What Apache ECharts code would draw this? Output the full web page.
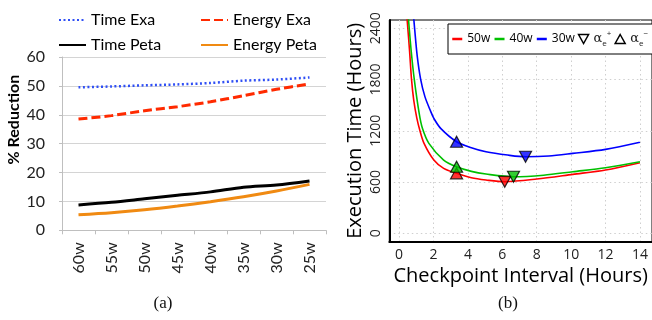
<!DOCTYPE html>
<html>
<head>
<meta charset="utf-8">
<script src="https://cdn.jsdelivr.net/npm/echarts@6/dist/echarts.min.js"></script>
<style>
  html, body { margin: 0; padding: 0; background: #fff; }
  #c { width: 652px; height: 320px; }
</style>
</head>
<body>
<div id="c"></div>
<script>
// ---- (a) % reduction per power budget ----
const sizes = ['60w', '55w', '50w', '45w', '40w', '35w', '30w', '25w'];
const timeExa = [49.5, 49.8, 50.2, 50.5, 51.0, 51.8, 52.2, 52.9];
const energyExa = [38.5, 39.7, 41.4, 42.8, 44.5, 46.6, 48.8, 50.7];
const timePeta = [8.8, 9.7, 10.9, 12.1, 13.3, 14.9, 15.7, 17.1];
const energyPeta = [5.4, 6.1, 7.1, 8.4, 9.9, 11.6, 13.6, 15.9];

// ---- (b) execution time vs checkpoint interval ----
const interval50 = [0.46, 0.61, 0.72, 0.85, 1.03, 1.2, 1.45, 2.02, 2.59, 3.34, 4.2, 5.05, 6.14, 8, 10.1, 12, 14];
const time50 = [2518, 2130, 1805, 1560, 1349, 1210, 1053, 858, 760, 702, 650, 624, 604, 635, 690, 741, 826];
const interval40 = [0.54, 0.7, 0.88, 1.17, 1.35, 1.73, 2.59, 3.34, 4.2, 5.05, 6.65, 8.4, 10.1, 12, 14];
const time40 = [2518, 2140, 1805, 1400, 1232, 1053, 858, 779, 725, 694, 662, 680, 721, 768, 838];
const interval30 = [0.85, 0.9, 1.05, 1.25, 1.5, 1.83, 2.02, 2.43, 3.34, 4.2, 5.05, 6.31, 7.35, 8.7, 10.1, 12, 14];
const time30 = [2518, 2400, 2080, 1805, 1600, 1430, 1345, 1225, 1072, 1003, 955, 916, 896, 905, 936, 983, 1065];
// optimum (down triangle) and lower bound (up triangle) per budget: 50w, 40w, 30w
const alphaPlusX = [6.14, 6.65, 7.35];
const alphaPlusY = [604, 662, 896];
const alphaMinusX = [3.34, 3.34, 3.34];
const alphaMinusY = [702, 779, 1072];
const intervalTicks = [0, 2, 4, 6, 8, 10, 12, 14];
const timeTicks = [0, 600, 1200, 1800, 2400];

const curveColors = ['#ff0000', '#00c000', '#0000ff'];
const pairs = (xs, ys) => xs.map((x, i) => [x, ys[i]]);
const marks = (xs, ys) => xs.map((x, i) => ({ value: [x, ys[i]], itemStyle: { color: curveColors[i] } }));

const fontA = 'Lato, "Open Sans", sans-serif';
const fontB = '"Open Sans", "DejaVu Sans", sans-serif';
const hollow = { color: '#fff', borderColor: '#000', borderWidth: 1.5, opacity: 1 };

const chart = echarts.init(document.getElementById('c'), null, { renderer: 'canvas' });

chart.setOption({
  animation: false,
  backgroundColor: '#fff',
  grid: [
    { left: 62, top: 57, width: 264, height: 173.3 },
    { left: 389.3, top: 20, width: 268, height: 221.7, show: true, borderColor: '#000', borderWidth: 1 }
  ],
  legend: [
    {
      data: ['Time Exa', 'Time Peta'], orient: 'vertical', left: 53, top: 7,
      itemWidth: 27, itemHeight: 14, itemGap: 9, itemStyle: { opacity: 0 },
      textStyle: { fontFamily: fontA, fontSize: 16, color: '#000' }
    },
    {
      data: ['Energy Exa', 'Energy Peta'], orient: 'vertical', left: 195, top: 7,
      itemWidth: 27, itemHeight: 14, itemGap: 9, itemStyle: { opacity: 0 },
      textStyle: { fontFamily: fontA, fontSize: 16, color: '#000' }
    },
    {
      data: [
        '50w', '40w', '30w',
        { name: 'α+', icon: 'path://M0,0 L10,0 L5,9 Z', itemStyle: hollow },
        { name: 'α−', icon: 'path://M5,0 L10,9 L0,9 Z', itemStyle: hollow }
      ],
      left: 448, top: 24, width: 240, padding: [6, 30, 6, 3],
      backgroundColor: '#fff', borderColor: '#000', borderWidth: 1, borderRadius: 0,
      itemWidth: 10, itemHeight: 9, itemGap: 3, itemStyle: { opacity: 0 },
      lineStyle: { width: 2.5 },
      formatter: function (n) {
        if (n === 'α+') return '{g|α}{s|e}{p|+}';
        if (n === 'α−') return '{g|α}{s|e}{p|−}';
        return n;
      },
      textStyle: {
        fontFamily: fontB, fontSize: 12, color: '#000',
        rich: {
          g: { fontFamily: 'DejaVu Serif', fontSize: 13, lineHeight: 18, color: '#222' },
          s: { fontFamily: fontB, fontSize: 8, verticalAlign: 'bottom', lineHeight: 18, color: '#222' },
          p: { fontFamily: fontB, fontSize: 8, verticalAlign: 'top', lineHeight: 18, color: '#222' }
        }
      }
    }
  ],
  xAxis: [
    {
      type: 'category', gridIndex: 0, data: sizes, boundaryGap: true,
      axisLine: { lineStyle: { color: '#bfbfbf', width: 1 } },
      axisTick: { show: true, length: 4, lineStyle: { color: '#bfbfbf' } },
      axisLabel: { rotate: 90, fontFamily: fontA, fontSize: 16, color: '#222', margin: 12 },
      splitLine: { show: false }
    },
    {
      type: 'value', gridIndex: 1, min: -0.57, max: 14.7,
      axisLine: { onZero: false, lineStyle: { color: '#000', width: 2 } },
      axisTick: { show: false, customValues: intervalTicks },
      axisLabel: { customValues: intervalTicks, formatter: v => String(v), fontFamily: fontB, fontSize: 14, color: '#222', margin: 6 },
      splitLine: { show: true, lineStyle: { color: '#cfcfcf', type: [1.5, 3], width: 1 } },
      name: 'Checkpoint Interval (Hours)', nameLocation: 'middle', nameGap: 21,
      nameTextStyle: { fontFamily: fontB, fontSize: 20, color: '#000' }
    }
  ],
  yAxis: [
    {
      type: 'value', gridIndex: 0, min: 0, max: 60, interval: 10,
      axisLine: { show: true, lineStyle: { color: '#bfbfbf', width: 1 } },
      axisTick: { show: true, length: 3, lineStyle: { color: '#bfbfbf' } },
      axisLabel: { fontFamily: fontA, fontSize: 16, color: '#222', margin: 17 },
      splitLine: { show: true, lineStyle: { color: '#d4d4d4', width: 1 } },
      name: '% Reduction', nameLocation: 'middle', nameGap: 40,
      nameTextStyle: { fontFamily: fontA, fontSize: 16, fontWeight: 'bold', color: '#000', padding: [0, 0, 0, 48] }
    },
    {
      type: 'value', gridIndex: 1, min: -98, max: 2497,
      axisLine: { show: true, onZero: false, lineStyle: { color: '#000', width: 2 } },
      axisTick: { show: false, customValues: timeTicks },
      axisLabel: { customValues: timeTicks, formatter: v => String(v), rotate: 90, fontFamily: fontB, fontSize: 14, color: '#222', margin: 6 },
      splitLine: { show: true, lineStyle: { color: '#cfcfcf', type: [1.5, 3], width: 1 } },
      name: 'Execution Time (Hours)', nameLocation: 'middle', nameGap: 24,
      nameTextStyle: { fontFamily: fontB, fontSize: 20, color: '#000' }
    }
  ],
  series: [
    { name: 'Time Exa', type: 'line', xAxisIndex: 0, yAxisIndex: 0, data: timeExa, smooth: 0.3,
      symbol: 'none', color: '#2f4ff5', lineStyle: { width: 2.5, type: [2, 2.5], color: '#2f4ff5' } },
    { name: 'Energy Exa', type: 'line', xAxisIndex: 0, yAxisIndex: 0, data: energyExa, smooth: 0.3,
      symbol: 'none', color: '#ff2a00', lineStyle: { width: 3, type: [9, 4], color: '#ff2a00' } },
    { name: 'Time Peta', type: 'line', xAxisIndex: 0, yAxisIndex: 0, data: timePeta, smooth: 0.3,
      symbol: 'none', color: '#000', lineStyle: { width: 3, color: '#000' } },
    { name: 'Energy Peta', type: 'line', xAxisIndex: 0, yAxisIndex: 0, data: energyPeta, smooth: 0.3,
      symbol: 'none', color: '#f08a12', lineStyle: { width: 3, color: '#f08a12' } },

    { name: '50w', type: 'line', xAxisIndex: 1, yAxisIndex: 1, data: pairs(interval50, time50), smooth: 0.3,
      symbol: 'none', clip: true, color: curveColors[0], lineStyle: { width: 1.6, color: curveColors[0] } },
    { name: '40w', type: 'line', xAxisIndex: 1, yAxisIndex: 1, data: pairs(interval40, time40), smooth: 0.3,
      symbol: 'none', clip: true, color: curveColors[1], lineStyle: { width: 1.6, color: curveColors[1] } },
    { name: '30w', type: 'line', xAxisIndex: 1, yAxisIndex: 1, data: pairs(interval30, time30), smooth: 0.3,
      symbol: 'none', clip: true, color: curveColors[2], lineStyle: { width: 1.6, color: curveColors[2] } },
    { name: 'α+', type: 'scatter', xAxisIndex: 1, yAxisIndex: 1, data: marks(alphaPlusX, alphaPlusY),
      symbol: 'triangle', symbolRotate: 180, symbolSize: [12, 11], z: 5,
      itemStyle: { borderColor: '#000', borderWidth: 1.2 } },
    { name: 'α−', type: 'scatter', xAxisIndex: 1, yAxisIndex: 1, data: marks(alphaMinusX, alphaMinusY),
      symbol: 'triangle', symbolSize: [12, 11], z: 5,
      itemStyle: { borderColor: '#000', borderWidth: 1.2 } }
  ],
  graphic: [
    { type: 'text', x: 163, y: 304, style: { text: '(a)', font: '17px "Liberation Serif", serif', fill: '#111', textAlign: 'center', textVerticalAlign: 'middle' } },
    { type: 'text', x: 508, y: 304, style: { text: '(b)', font: '17px "Liberation Serif", serif', fill: '#111', textAlign: 'center', textVerticalAlign: 'middle' } }
  ]
});
</script>
</body>
</html>
